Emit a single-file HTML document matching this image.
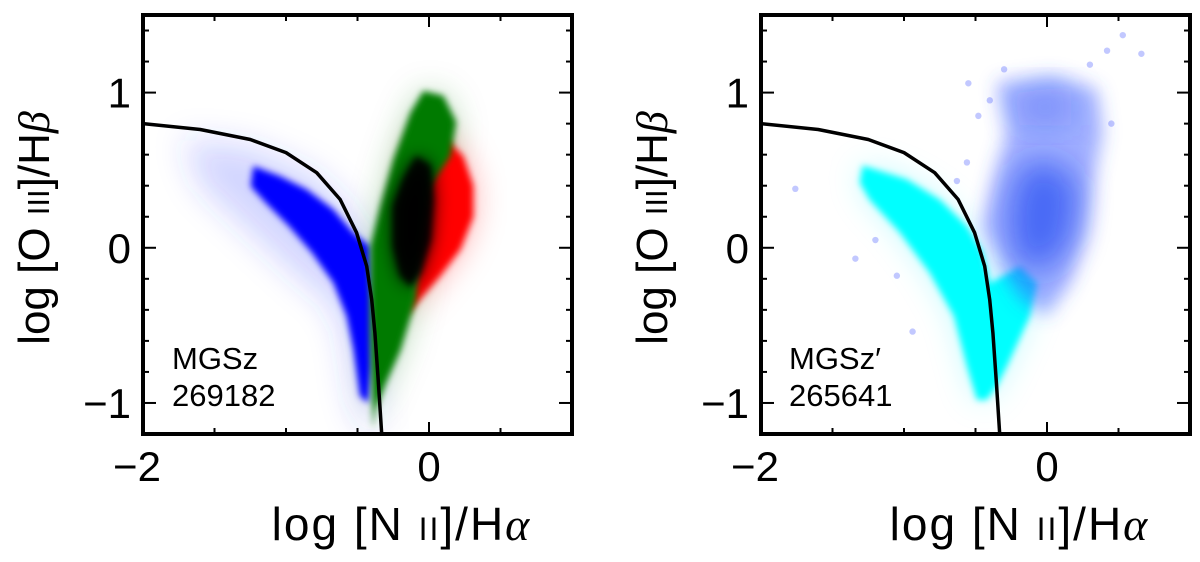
<!DOCTYPE html>
<html><head><meta charset="utf-8">
<style>
html,body{margin:0;padding:0;background:#fff;}
svg{display:block;font-family:"Liberation Sans","DejaVu Sans",sans-serif;}
</style></head>
<body>
<svg id="fig" width="1200" height="562" viewBox="0 0 1200 562" xmlns="http://www.w3.org/2000/svg">
<defs>
<filter id="b2" x="-30%" y="-30%" width="160%" height="160%"><feGaussianBlur stdDeviation="3.5"/></filter>
<filter id="b8" x="-50%" y="-50%" width="200%" height="200%"><feGaussianBlur stdDeviation="9"/></filter>
<filter id="b16" x="-50%" y="-50%" width="200%" height="200%"><feGaussianBlur stdDeviation="16"/></filter>
<clipPath id="clipL"><rect x="143" y="15" width="429" height="419"/></clipPath>
<clipPath id="clipR"><rect x="761" y="15" width="429" height="419"/></clipPath>
</defs>
</svg>
<script>
// ---- data (log [N II]/Ha, log [O III]/Hb) ----
const xTicks = [-2, 0];
const xTickLabels = ["\u22122", "0"];
const yTicks = [-1, 0, 1];
const yTickLabels = ["\u22121", "0", "1"];
const xMinor = [-1.5, -1, -0.5, 0.5, 1];
const yMinor = [-1.2, -0.8, -0.6, -0.4, -0.2, 0.2, 0.4, 0.6, 0.8, 1.2, 1.4];
const demarcX = [-2.0, -1.6, -1.25, -1.0, -0.785, -0.622, -0.506, -0.436, -0.401, -0.378, -0.354, -0.331];
const demarcY = [0.80, 0.762, 0.698, 0.613, 0.484, 0.312, 0.097, -0.119, -0.334, -0.548, -0.871, -1.2];
const blueBandX = [-1.229,-1.042,-0.855,-0.669,-0.529,-0.413,-0.401,-0.401,-0.424,-0.483,-0.529,-0.576,-0.669,-0.818,-0.979,-1.142,-1.247];
const blueBandY = [0.527,0.462,0.376,0.247,0.097,0.01,-0.334,-0.764,-1.0,-0.957,-0.656,-0.441,-0.226,-0.032,0.139,0.29,0.397];
const blueHaloX = [-1.72,-1.25,-0.82,-0.6,-0.47,-0.38,-0.38,-0.45,-0.53,-0.6,-0.7,-0.9,-1.25,-1.6];
const blueHaloY = [0.70,0.65,0.48,0.30,0.12,0.0,-1.17,-1.17,-0.98,-0.55,-0.35,-0.2,0.1,0.4];
const greenX = [-0.41,-0.34,-0.25,-0.13,-0.04,0.10,0.19,0.15,0.01,-0.06,-0.09,-0.20,-0.30,-0.37,-0.39,-0.41];
const greenY = [0.01,0.27,0.57,0.87,1.01,0.98,0.81,0.59,0.40,0.10,-0.33,-0.66,-0.87,-1.04,-1.17,-0.55];
const redX = [-0.09,0.10,0.24,0.31,0.31,0.22,0.08,-0.06,-0.16,-0.09,-0.13];
const redY = [0.68,0.72,0.59,0.40,0.20,-0.01,-0.18,-0.33,-0.44,-0.12,0.31];
const blackX = [-0.25,-0.18,-0.09,0.01,0.03,0.01,-0.06,-0.13,-0.20,-0.25];
const blackY = [0.27,0.44,0.59,0.53,0.31,0.05,-0.16,-0.25,-0.18,0.01];
const cyanX = [-1.29,-0.98,-0.75,-0.56,-0.45,-0.40,-0.19,-0.07,-0.12,-0.28,-0.35,-0.42,-0.49,-0.56,-0.65,-0.82,-1.03,-1.24,-1.31];
const cyanY = [0.53,0.44,0.31,0.14,-0.03,-0.23,-0.12,-0.23,-0.44,-0.76,-0.89,-0.98,-0.98,-0.76,-0.44,-0.16,0.10,0.31,0.42];
const cloudX = [-0.35,0.04,0.35,0.39,0.32,0.28,0.16,0.0,-0.19,-0.31,-0.45,-0.38,-0.28];
const cloudY = [1.06,1.11,1.02,0.74,0.42,0.10,-0.23,-0.44,-0.33,-0.12,0.14,0.42,0.74];
const coreX = [-0.19,0.04,0.23,0.18,0.0,-0.24,-0.28];
const coreY = [0.53,0.57,0.40,0.05,-0.16,-0.08,0.23];
const coreTopX = [-0.24,0.16,0.18,-0.19];
const coreTopY = [1.0,1.04,0.79,0.79];
const outX = [0.53,0.66,0.42,-0.55,-1.76,-1.20,-1.34,-1.05,-0.94,-0.56,-0.63,-0.40,-0.30,0.30,0.45,-0.48];
const outY = [1.37,1.25,1.27,1.06,0.38,0.05,-0.07,-0.18,-0.54,0.55,0.43,0.95,1.15,1.18,0.80,0.85];

const NS = "http://www.w3.org/2000/svg";
const svg = document.getElementById('fig');
const W = 429, H = 419, TOP = 15;
const xMin = -2, xMax = 1, yMin = -1.2, yMax = 1.5;
function mk(tag, attrs, parent){ const e = document.createElementNS(NS, tag); for (const k in attrs) e.setAttribute(k, attrs[k]); (parent||svg).appendChild(e); return e; }
function panel(left){
  const sx = v => left + (v - xMin) / (xMax - xMin) * W;
  const sy = v => TOP + (yMax - v) / (yMax - yMin) * H;
  const pts = (xs, ys) => xs.map((x,i)=>sx(x).toFixed(1)+','+sy(ys[i]).toFixed(1)).join(' ');
  return {sx, sy, pts};
}
function poly(g, P, xs, ys, fill, op, filt, name){
  const p = mk('polygon', {points: P.pts(xs, ys), fill: fill, 'fill-opacity': op, 'stroke-linejoin':'round'}, g);
  if (filt) p.setAttribute('filter', 'url(#'+filt+')');
  
  
  return p;
}
function axes(left, P, clipId, idx){
  const path = mk('polyline', {points: P.pts(demarcX, demarcY), fill:'none', stroke:'#000', 'stroke-width':3.5, 'stroke-linejoin':'round', 'clip-path':'url(#'+clipId+')'});
  
  
  const tg = mk('g', {stroke:'#000', 'stroke-width':2});
  
  
  const bot = TOP + H;
  xTicks.forEach(v=>{ const x=P.sx(v); mk('line',{x1:x,y1:bot,x2:x,y2:bot-12},tg); mk('line',{x1:x,y1:TOP,x2:x,y2:TOP+12},tg); });
  xMinor.forEach(v=>{ const x=P.sx(v); mk('line',{x1:x,y1:bot,x2:x,y2:bot-6},tg); mk('line',{x1:x,y1:TOP,x2:x,y2:TOP+6},tg); });
  yTicks.forEach(v=>{ const y=P.sy(v); mk('line',{x1:left,y1:y,x2:left+13,y2:y},tg); mk('line',{x1:left+W,y1:y,x2:left+W-13,y2:y},tg); });
  yMinor.forEach(v=>{ const y=P.sy(v); mk('line',{x1:left,y1:y,x2:left+6,y2:y},tg); mk('line',{x1:left+W,y1:y,x2:left+W-6,y2:y},tg); });
  const fr = mk('rect', {x:left, y:TOP, width:W, height:H, fill:'none', stroke:'#000', 'stroke-width':4});
  
  
  xTicks.forEach((v,i)=>{ const t = mk('text',{x:P.sx(v)+(v<0?-6:0), y:481, 'font-size':42, 'text-anchor':'middle'}); t.textContent = xTickLabels[i];
      });
  yTicks.forEach((v,i)=>{ const t = mk('text',{x:left-12, y:P.sy(v)+15, 'font-size':42, 'text-anchor':'end'}); t.textContent = yTickLabels[i];
      });
  const xt = mk('text', {x:left+W/2+44, y:540, 'font-size':46, 'letter-spacing':2, 'text-anchor':'middle'});
  xt.innerHTML = 'log [N <tspan font-size="32">II</tspan>]/H<tspan font-family="Liberation Serif" font-style="italic">α</tspan>';
  
  
  const yt = mk('text', {x:0, y:0, 'font-size':44, 'text-anchor':'middle', transform:'translate('+(left-94)+',228) rotate(-90)'});
  yt.innerHTML = 'log [O <tspan font-size="31">III</tspan>]/H<tspan font-family="Liberation Serif" font-style="italic">β</tspan>';
  
  
}

// Left panel
const PL = panel(143);
const gL = mk('g', {'clip-path':'url(#clipL)'});


poly(gL, PL, blueHaloX, blueHaloY, '#3344ff', 0.22, 'b16', 'blue-halo');
poly(gL, PL, greenX, greenY, '#1a7a1a', 0.3, 'b16', 'green-halo');
poly(gL, PL, redX, redY, '#ff2020', 0.35, 'b16', 'red-halo');
poly(gL, PL, blueBandX, blueBandY, '#0000ff', 1, 'b2', 'blue-star-forming');
poly(gL, PL, redX, redY, '#ff0000', 1, 'b2', 'red-agn');
poly(gL, PL, greenX, greenY, '#007a00', 1, 'b2', 'green-composite');
poly(gL, PL, blackX, blackY, '#000000', 1, 'b8', 'black-core');
poly(gL, PL, blackX, blackY, '#000000', 0.9, 'b2', 'black-core-dense');
axes(143, PL, 'clipL', 'left');
const lt = mk('text', {x:172, y:369, 'font-size':31});
lt.innerHTML = '<tspan x="172">MGSz</tspan><tspan x="172" dy="37">269182</tspan>';



// Right panel
const PR = panel(761);
const gR = mk('g', {'clip-path':'url(#clipR)'});


poly(gR, PR, cyanX, cyanY, '#00eeff', 0.25, 'b16', 'cyan-halo');
poly(gR, PR, cyanX, cyanY, '#00ffff', 1, 'b2', 'cyan-dense');
poly(gR, PR, cloudX, cloudY, '#4060ff', 0.5, 'b8', 'blue-cloud');
poly(gR, PR, coreX, coreY, '#0030ee', 0.55, 'b16', 'blue-core');
poly(gR, PR, coreTopX, coreTopY, '#2244ee', 0.3, 'b16', 'blue-core-top');
outX.forEach((x,i)=>{
  const c = mk('circle', {cx:PR.sx(x), cy:PR.sy(outY[i]), r:3.2, fill:'#5060ff', 'fill-opacity':0.35}, gR);
  
  
});
axes(761, PR, 'clipR', 'right');
const rt = mk('text', {x:789, y:369, 'font-size':31});
rt.innerHTML = '<tspan x="789">MGSz\u2032</tspan><tspan x="789" dy="37">265641</tspan>';


</script>
</body></html>
